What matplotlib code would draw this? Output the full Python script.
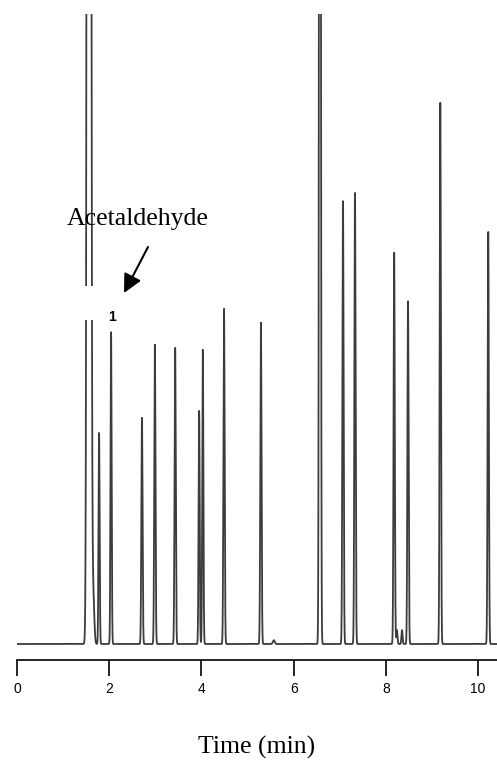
import numpy as np
import matplotlib
matplotlib.use("Agg")
import matplotlib.pyplot as plt
from matplotlib.patches import Rectangle

# peak table (time in min, height in arbitrary units, width sigma in min)
peak_times = [1.56, 1.62, 1.66, 1.78, 2.04, 2.71, 2.99, 3.43, 3.95, 4.03, 4.49,
              5.29, 5.57, 6.57, 7.07, 7.33, 8.18, 8.24, 8.35, 8.48, 9.18, 10.22]
peak_heights = [1200, 14, 6, 33.5, 49.5, 35.9, 47.5, 47.0, 37.0, 46.7, 53.2,
                51.0, 0.6, 400, 70.3, 71.6, 62.1, 2.2, 2.2, 54.4, 85.9, 65.4]
peak_sigmas = [0.025, 0.02, 0.02, 0.012, 0.012, 0.013, 0.013, 0.013, 0.012, 0.012, 0.013,
               0.013, 0.02, 0.014, 0.013, 0.013, 0.013, 0.012, 0.012, 0.013, 0.013, 0.013]
tick_vals = [0, 2, 4, 6, 8, 10]

t = np.linspace(0, 10.42, 30000)
signal = np.zeros_like(t)
for t0, h, s in zip(peak_times, peak_heights, peak_sigmas):
    signal += h * np.exp(-0.5 * ((t - t0) / s) ** 2)

W, H = 497, 765
fig = plt.figure(figsize=(W / 100, H / 100), dpi=100)
ax = fig.add_axes([17 / W, (H - 660) / H, 1 - 17 / W, (660 - 14) / H])

ax.plot(t, signal, color='#3c3c3c', lw=1.3)
ax.set_xlim(0, 10.41)
ax.set_ylim(-2.54, 100)

for side in ['left', 'right', 'top']:
    ax.spines[side].set_visible(False)
ax.spines['bottom'].set_linewidth(1.2)
ax.set_yticks([])
ax.set_xticks(tick_vals)
ax.set_xticklabels([str(v) for v in tick_vals], family='Liberation Sans', fontsize=10)
ax.tick_params(axis='x', direction='out', length=11.5, width=1.2, pad=4)

# white box over solvent peak, as in the original figure
fig.add_artist(Rectangle((68 / W, 1 - 320 / H), 40 / W, 34 / H, transform=fig.transFigure,
                         facecolor='white', edgecolor='none', zorder=5))

ax.annotate('1', xy=(peak_times[4], peak_heights[4]), xytext=(1, 11), textcoords='offset points',
            ha='center', va='center', fontsize=10, fontweight='bold', family='Liberation Sans',
            zorder=6)

fig.text(67 / W, 1 - 225 / H, 'Acetaldehyde', family='Liberation Serif', fontsize=18.5,
         ha='left', va='baseline')
fig.add_artist(matplotlib.patches.FancyArrowPatch(
    (148 / W, 1 - 247 / H), (124 / W, 1 - 293 / H), transform=fig.transFigure,
    arrowstyle='-|>,head_length=0.8,head_width=0.4', mutation_scale=14,
    color='black', lw=1.5, shrinkA=0, shrinkB=0))

fig.text(257 / W, 1 - 747 / H, 'Time (min)', family='Liberation Serif', fontsize=18.5,
         ha='center', va='center')

fig.savefig('out.png', dpi=100)
